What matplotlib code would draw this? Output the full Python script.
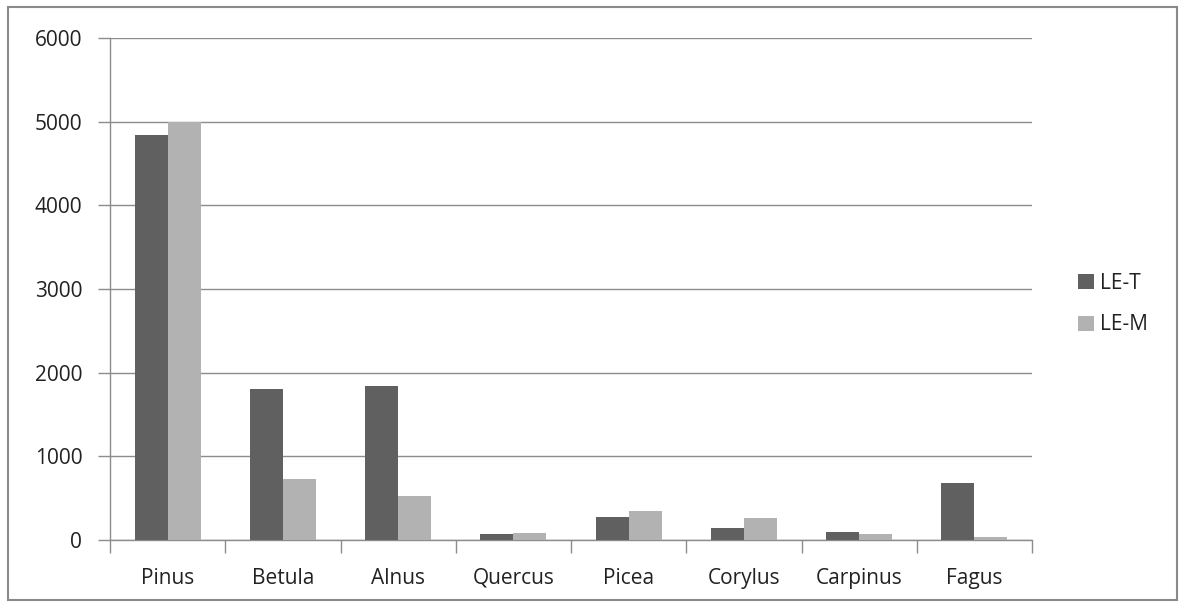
import matplotlib
matplotlib.use("Agg")
import matplotlib.pyplot as plt
import numpy as np
from matplotlib.patches import Rectangle

categories = ["Pinus", "Betula", "Alnus", "Quercus", "Picea", "Corylus", "Carpinus", "Fagus"]
le_t = [4845, 1805, 1835, 72, 280, 148, 100, 680]
le_m = [5000, 725, 520, 85, 345, 260, 68, 35]
series_names = ["LE-T", "LE-M"]
yticks = [0, 1000, 2000, 3000, 4000, 5000, 6000]

W, H = 1180, 608
fig = plt.figure(figsize=(W/100, H/100), dpi=100)
plt.rcParams['font.family'] = ['Open Sans', 'DejaVu Sans']

# outer frame
fig.patches.append(Rectangle((8/W, 1 - 600/H), (1177-8)/W, (600-7)/H, transform=fig.transFigure,
                             fill=False, edgecolor='#8a8a8a', linewidth=1.5))

ax = fig.add_axes([110/W, 1 - 540/H, (1032-110)/W, (540-38)/H])
n = len(categories)
x = np.arange(n)
bw = 0.286
ax.bar(x - bw/2, le_t, width=bw, color='#606060', label=series_names[0], zorder=3)
ax.bar(x + bw/2, le_m, width=bw, color='#b2b2b2', label=series_names[1], zorder=3)

fs = 15
ax.set_xlim(-0.5, n - 0.5)
ax.set_ylim(0, 6000)
ax.set_yticks(yticks)
ax.set_yticklabels([str(v) for v in yticks], fontsize=fs, color='#222222')
ax.yaxis.grid(True, color='#8c8c8c', linewidth=1.0, zorder=0)
ax.set_axisbelow(True)

ax.set_xticks(x)
ax.set_xticklabels(categories, fontsize=fs, color='#222222')
ax.tick_params(axis='x', length=0, pad=20)
ax.set_xticks(np.arange(-0.5, n, 1.0), minor=True)
ax.tick_params(axis='x', which='minor', length=9, color='#8c8c8c', width=1)
ax.tick_params(axis='y', length=9, color='#8c8c8c', width=1, pad=11)

for s in ['top', 'right']:
    ax.spines[s].set_visible(False)
for s in ['left', 'bottom']:
    ax.spines[s].set_color('#8c8c8c')
    ax.spines[s].set_linewidth(1)

leg = ax.legend(loc='center left', bbox_to_anchor=(1.03, 0.47), frameon=False,
                fontsize=fs, handlelength=0.75, handleheight=0.75, handletextpad=0.3,
                labelspacing=1.0)
for t in leg.get_texts():
    t.set_color('#222222')

fig.savefig("out.png", dpi=100)
